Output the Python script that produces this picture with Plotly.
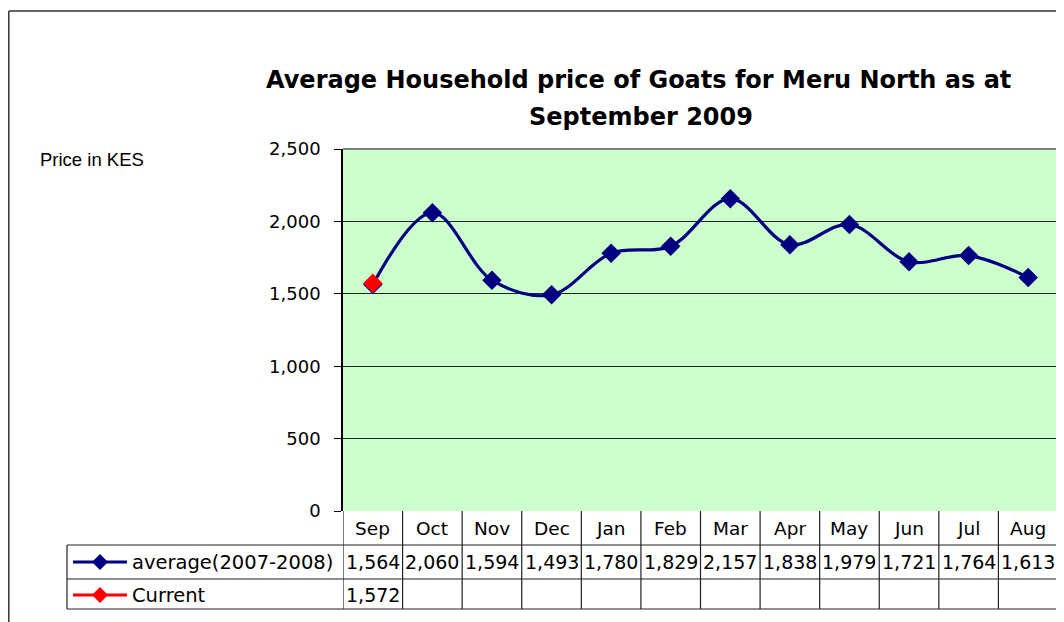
import plotly.graph_objects as go

months = ["Sep", "Oct", "Nov", "Dec", "Jan", "Feb", "Mar", "Apr", "May", "Jun", "Jul", "Aug"]
average = [1564, 2060, 1594, 1493, 1780, 1829, 2157, 1838, 1979, 1721, 1764, 1613]
current = [1572] + [None] * 11
series_names = ["average(2007-2008)", "Current"]
yticks = [0, 500, 1000, 1500, 2000, 2500]

# the page has an 8px body margin, so the figure is 8px smaller than the window
OFF = 8
W, H = 1064 - OFF, 622 - OFF
L = 343 - OFF
R = W - (1058 - OFF)
T = 149 - OFF
B = H - (511 - OFF)
PW, PH = W - L - R, H - T - B


def px(xp):
    """page pixel x -> paper x"""
    return (xp - OFF - L) / PW


def py(yp):
    """page pixel y -> paper y"""
    return (H - B - (yp - OFF)) / PH


NAVY = "#000080"
RED = "#FF0000"
TFONT = "DejaVu Sans"
xs = list(range(len(months)))

fig = go.Figure()
fig.add_trace(go.Scatter(
    x=xs, y=average, mode="lines+markers", name=series_names[0],
    line=dict(color=NAVY, width=3.2, shape="spline", smoothing=1.0),
    marker=dict(symbol="diamond", size=15, color=NAVY),
    showlegend=False, cliponaxis=False,
))
fig.add_trace(go.Scatter(
    x=xs, y=current, mode="lines+markers", name=series_names[1],
    line=dict(color=RED, width=3),
    marker=dict(symbol="diamond", size=15, color=RED),
    showlegend=False, cliponaxis=False,
))

shapes = []
ann = []

# outer frame
shapes.append(dict(type="line", xref="paper", yref="paper", x0=px(8.8), x1=px(1080), y0=py(11), y1=py(11),
                   line=dict(color="#333333", width=1.5)))
shapes.append(dict(type="line", xref="paper", yref="paper", x0=px(8.8), x1=px(8.8), y0=py(11), y1=py(640),
                   line=dict(color="#333333", width=1.5)))

# plot border (top/right gray)
shapes.append(dict(type="line", xref="paper", yref="paper", x0=0, x1=1, y0=1, y1=1,
                   line=dict(color="#808080", width=2)))
shapes.append(dict(type="line", xref="paper", yref="paper", x0=1, x1=1, y0=0, y1=1,
                   line=dict(color="#808080", width=2)))

# data table
for yl in [py(545), py(579), py(609)]:
    shapes.append(dict(type="line", xref="paper", yref="paper", x0=px(67), x1=1, y0=yl, y1=yl,
                       line=dict(color="#222222", width=1.2)))
shapes.append(dict(type="line", xref="paper", yref="paper", x0=px(67), x1=px(67), y0=py(545), y1=py(609),
                   line=dict(color="#222222", width=1.2)))
for k in range(len(months) + 1):
    shapes.append(dict(type="line", xref="x", yref="paper", x0=k - 0.5, x1=k - 0.5, y0=0, y1=py(609),
                       line=dict(color="#222222", width=1.2)))

# legend keys inside table
for name, col, yrow in [(series_names[0], NAVY, py(562)), (series_names[1], RED, py(595))]:
    shapes.append(dict(type="line", xref="paper", yref="paper", x0=px(73), x1=px(127), y0=yrow, y1=yrow,
                       line=dict(color=col, width=3)))
    shapes.append(dict(type="path", xref="paper", yref="paper", xsizemode="pixel", ysizemode="pixel",
                       xanchor=px(100), yanchor=yrow, path="M 0 8 L 8 0 L 0 -8 L -8 0 Z",
                       fillcolor=col, line=dict(color=col, width=0)))
    ann.append(dict(text=name, xref="paper", yref="paper", x=px(130), y=yrow, xanchor="left", yanchor="middle",
                    showarrow=False, font=dict(family=TFONT, size=19.5, color="black")))

for i, m in enumerate(months):
    ann.append(dict(text=m, xref="x", yref="paper", x=i, y=py(528), xanchor="center", yanchor="middle",
                    showarrow=False, font=dict(family=TFONT, size=18.5, color="black")))
    ann.append(dict(text=f"{average[i]:,}", xref="x", yref="paper", x=i, y=py(562), xanchor="center",
                    yanchor="middle", showarrow=False, font=dict(family=TFONT, size=19, color="black")))
    if current[i] is not None:
        ann.append(dict(text=f"{current[i]:,}", xref="x", yref="paper", x=i, y=py(595), xanchor="center",
                        yanchor="middle", showarrow=False, font=dict(family=TFONT, size=19, color="black")))

# titles
ann.append(dict(text="Average Household price of Goats for Meru North as at", xref="paper", yref="paper",
                x=px(638), y=py(80), xanchor="center", yanchor="middle", showarrow=False,
                font=dict(family="DejaVu Sans", size=24, color="black", weight="bold")))
ann.append(dict(text="September 2009", xref="paper", yref="paper",
                x=px(641), y=py(117), xanchor="center", yanchor="middle", showarrow=False,
                font=dict(family="DejaVu Sans", size=24, color="black", weight="bold")))
ann.append(dict(text="Price in KES", xref="paper", yref="paper", x=px(38), y=py(159), xanchor="left",
                yanchor="middle", showarrow=False, font=dict(family="Liberation Sans", size=18.5, color="black")))

fig.update_layout(
    width=W, height=H,
    margin=dict(l=L, r=R, t=T, b=B, pad=0),
    paper_bgcolor="white", plot_bgcolor="#CCFFCC",
    shapes=shapes, annotations=ann,
    xaxis=dict(range=[-0.5, len(months) - 0.5], showticklabels=False, showgrid=False, zeroline=False,
               ticks="", showline=False, fixedrange=True),
    yaxis=dict(range=[0, 2500], tickvals=yticks, ticktext=[f"{v:,}" for v in yticks],
               showgrid=True, gridcolor="#222222", gridwidth=1, zeroline=False,
               showline=True, linecolor="black", linewidth=1.5, ticks="outside", ticklen=7,
               tickcolor="black", tickfont=dict(family=TFONT, size=18, color="black"),
               ticklabelstandoff=10, fixedrange=True),
    showlegend=False,
)

fig.write_html("out.html")
